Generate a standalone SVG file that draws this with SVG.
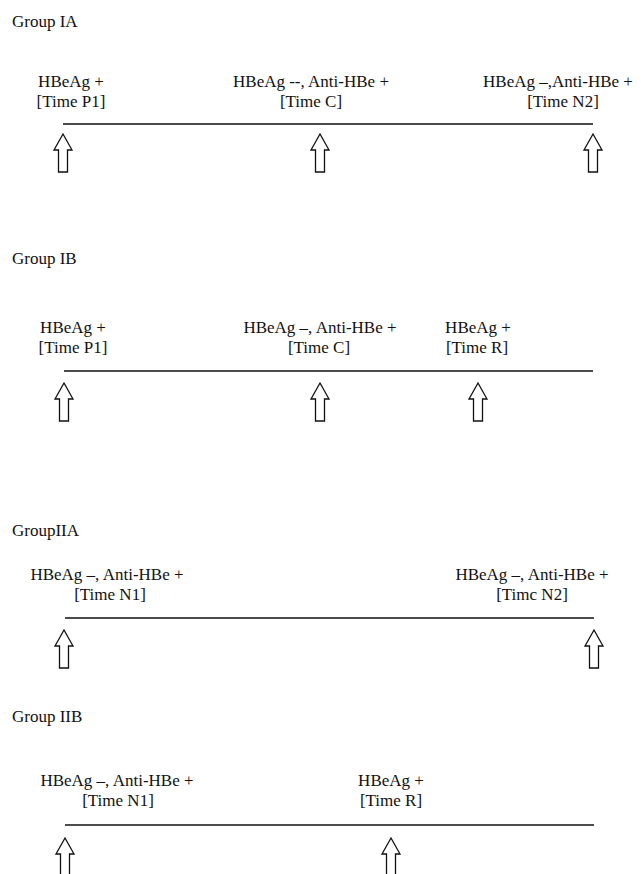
<svg xmlns="http://www.w3.org/2000/svg" width="641" height="874" viewBox="0 0 641 874">
  <style>
    text { font-family: "Liberation Serif", "Times New Roman", serif; font-size: 17px; fill: #111; }
    .lbl { text-anchor: middle; }
    .axis { stroke: #111; stroke-width: 1.4; fill: none; }
    .arrow { fill: #fff; stroke: #111; stroke-width: 1.3; stroke-linejoin: miter; }
  </style>
  <defs>
    <!-- hollow upward block arrow, tip at (0,0) -->
    <path id="up-arrow" class="arrow" d="M0,0 L9,16 L4.5,16 L4.5,38 L-4.5,38 L-4.5,16 L-9,16 Z"/>
  </defs>
  <rect width="641" height="874" fill="#fff"/>

  <!-- group titles -->
  <text x="12" y="27">Group IA</text>
  <text x="12" y="264">Group IB</text>
  <text x="12" y="536">GroupIIA</text>
  <text x="12" y="722">Group IIB</text>

  <!-- timelines -->
  <g id="connectors">
    <line class="axis" x1="63" y1="124" x2="593" y2="124"/>
    <line class="axis" x1="64" y1="371" x2="593" y2="371"/>
    <line class="axis" x1="65" y1="618" x2="594" y2="618"/>
    <line class="axis" x1="65" y1="825" x2="594" y2="825"/>
  </g>

  <!-- Group IA -->
  <g id="ia-p1">
    <text class="lbl" x="71" y="87">HBeAg +</text>
    <text class="lbl" x="71" y="107">[Time P1]</text>
    <use href="#up-arrow" x="63" y="134"/>
  </g>
  <g id="ia-c">
    <text class="lbl" x="311" y="87">HBeAg --, Anti-HBe +</text>
    <text class="lbl" x="311" y="107">[Time C]</text>
    <use href="#up-arrow" x="320" y="134"/>
  </g>
  <g id="ia-n2">
    <text class="lbl" x="558" y="87">HBeAg –,Anti-HBe +</text>
    <text class="lbl" x="563" y="107">[Time N2]</text>
    <use href="#up-arrow" x="593" y="134"/>
  </g>

  <!-- Group IB -->
  <g id="ib-p1">
    <text class="lbl" x="73" y="333">HBeAg +</text>
    <text class="lbl" x="73" y="353">[Time P1]</text>
    <use href="#up-arrow" x="64" y="383"/>
  </g>
  <g id="ib-c">
    <text class="lbl" x="320" y="333">HBeAg –, Anti-HBe +</text>
    <text class="lbl" x="319" y="353">[Time C]</text>
    <use href="#up-arrow" x="320" y="383"/>
  </g>
  <g id="ib-r">
    <text class="lbl" x="478" y="333">HBeAg +</text>
    <text class="lbl" x="477" y="353">[Time R]</text>
    <use href="#up-arrow" x="478" y="383"/>
  </g>

  <!-- Group IIA -->
  <g id="iia-n1">
    <text class="lbl" x="107" y="580">HBeAg –, Anti-HBe +</text>
    <text class="lbl" x="110" y="600">[Time N1]</text>
    <use href="#up-arrow" x="64" y="630"/>
  </g>
  <g id="iia-n2">
    <text class="lbl" x="532" y="580">HBeAg –, Anti-HBe +</text>
    <text class="lbl" x="532" y="600">[Timc N2]</text>
    <use href="#up-arrow" x="594" y="630"/>
  </g>

  <!-- Group IIB -->
  <g id="iib-n1">
    <text class="lbl" x="117" y="786">HBeAg –, Anti-HBe +</text>
    <text class="lbl" x="118" y="806">[Time N1]</text>
    <use href="#up-arrow" x="65" y="838"/>
  </g>
  <g id="iib-r">
    <text class="lbl" x="391" y="786">HBeAg +</text>
    <text class="lbl" x="391" y="806">[Time R]</text>
    <use href="#up-arrow" x="391" y="838"/>
  </g>
</svg>
